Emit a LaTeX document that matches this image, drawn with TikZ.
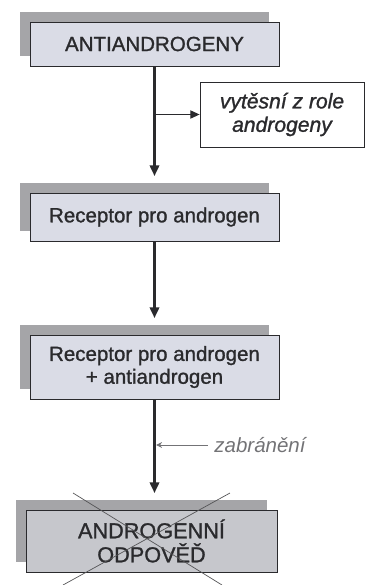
\documentclass[tikz,border=0pt]{standalone}
\usepackage{fontspec}
\setmainfont{Liberation Sans}[BoldFont=Liberation Sans, BoldFeatures={FakeBold=1.2},
    BoldItalicFont=Liberation Sans Italic, BoldItalicFeatures={FakeBold=1.2}]
\usetikzlibrary{arrows.meta,shadows}
\definecolor{boxblue}{RGB}{218, 220, 230}
\definecolor{boxgrey}{RGB}{198, 199, 204}
\definecolor{shadowgrey}{RGB}{165, 165, 168}
\definecolor{inkgrey}{RGB}{42, 42, 45}
\definecolor{notegrey}{RGB}{115, 115, 118}

\begin{document}
\begin{tikzpicture}[x=0.03cm, y=-0.03cm,
    every node/.style={font=\fontsize{17.5}{19.5}\selectfont\bfseries, text=inkgrey, align=center, inner sep=0pt},
    stepbox/.style={draw=inkgrey, line width=0.6pt, fill=boxblue, minimum width=7.47cm,
        general shadow={fill=shadowgrey, shadow xshift=-0.3cm, shadow yshift=0.3cm}},
    flow/.style={draw=inkgrey, line width=1.8pt, -{Triangle[length=9pt,width=8pt]}, shorten >=0.5cm},
    crossline/.style={draw=inkgrey!80, line width=0.6pt}]
    \useasboundingbox (0,0) rectangle (366,585);

    % main chain
    \node[stepbox, minimum height=1.32cm] (anti) at (154.5,44) {ANTIANDROGENY};
    \node[stepbox, minimum height=1.44cm] (receptor) at (154.5,217) {Receptor pro androgen};
    \node[stepbox, minimum height=1.92cm] (complex) at (154.5,367) {Receptor pro androgen\\+ antiandrogen};
    \node[stepbox, fill=boxgrey, minimum width=7.53cm, minimum height=1.86cm,
        font=\fontsize{18.5}{20.5}\selectfont\bfseries] (response) at (151.5,541) {ANDROGENNÍ\\ODPOVĚĎ};

    % side note
    \node[draw=inkgrey, fill=white, line width=0.6pt, minimum width=4.92cm, minimum height=1.95cm,
        font=\fontsize{18}{20}\selectfont\bfseries\itshape] (displace) at (282,114.5) {vytěsní z role\\androgeny};
    \node[font=\fontsize{17.5}{19.5}\selectfont\itshape, text=notegrey] (block) at (260,445) {zabránění};

    \draw[flow] (anti) -- (receptor);
    \draw[flow] (receptor) -- (complex);
    \draw[flow] (complex.south) -- (complex.south |- response.north);

    \coordinate (fork) at (anti.south |- displace.west);
    \draw[draw=inkgrey, line width=1.2pt, -{Triangle[length=8pt,width=7pt]}] (fork) -- (displace.west);
    \draw[draw=notegrey, line width=0.7pt, -{Stealth[length=5pt,width=5pt]}, shorten <=0.2cm, shorten >=0.05cm]
        (block.west) -- (block.west -| complex.south);

    % crossed out
    \draw[crossline] (73,493) -- (222,585);
    \draw[crossline] (230,493) -- (63,585);
\end{tikzpicture}
\end{document}
